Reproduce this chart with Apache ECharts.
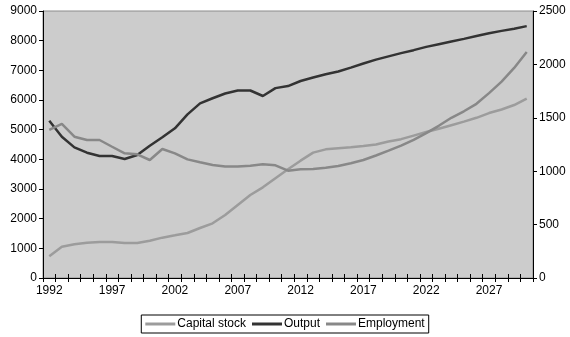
<!DOCTYPE html>
<html><head><meta charset="utf-8">
<script src="https://cdn.jsdelivr.net/npm/echarts@6/dist/echarts.min.js"></script>
<style>html,body{margin:0;padding:0;background:#fff}#c{width:570px;height:337px}</style>
</head><body><div id="c"></div>
<script>
const years = [];
for (let y = 1992; y <= 2030; y++) years.push(String(y));
const capitalStock = [730,1055,1135,1190,1213,1213,1180,1180,1258,1360,1438,1517,1686,1843,2124,2461,2798,3057,3360,3663,3955,4225,4337,4371,4405,4450,4500,4600,4680,4800,4920,5030,5150,5270,5400,5560,5680,5830,6050];
const output = [5300,4763,4404,4224,4112,4112,4011,4146,4460,4742,5045,5517,5888,6060,6220,6320,6320,6135,6400,6470,6640,6760,6870,6960,7090,7230,7360,7470,7580,7680,7790,7880,7970,8060,8160,8250,8330,8400,8490];
const employment = [1386,1442,1323,1292,1292,1229,1167,1158,1105,1208,1167,1111,1083,1058,1043,1043,1052,1064,1055,1005,1018,1021,1033,1049,1074,1105,1147,1192,1239,1294,1356,1425,1500,1561,1631,1731,1839,1967,2117];
const font = 'Arial, "Liberation Sans", sans-serif';
const chart = echarts.init(document.getElementById('c'));
chart.setOption({
  animation: false,
  grid: {left: 43, right: 37, top: 11, bottom: 59, show: true, backgroundColor: '#cccccc', borderColor: '#8c8c8c', borderWidth: 1},
  legend: {
    bottom: 4, left: 'center', itemWidth: 30, itemHeight: 3, itemGap: 6,
    padding: [3, 4, 3, 4], borderColor: '#000', borderWidth: 1,
    icon: 'rect',
    textStyle: {fontFamily: font, fontSize: 12, color: '#000', padding: [0, 0, 0, -3]},
    data: ['Capital stock', 'Output', 'Employment']
  },
  xAxis: [{
    type: 'category', data: years, boundaryGap: true,
    axisLine: {lineStyle: {color: '#000', width: 1}},
    axisTick: {show: true, interval: 0, length: 4, lineStyle: {color: '#000'}},
    axisLabel: {interval: 4, color: '#000', fontFamily: font, fontSize: 12, margin: 7}
  }, {
    type: 'category', data: years, boundaryGap: true, position: 'bottom',
    axisLine: {show: false},
    axisTick: {show: true, inside: true, interval: 0, length: 4, lineStyle: {color: '#000'}},
    axisLabel: {show: false}
  }],
  yAxis: [{
    type: 'value', min: 0, max: 9000, interval: 1000,
    axisLine: {show: true, lineStyle: {color: '#000'}},
    axisTick: {show: true, length: 4, lineStyle: {color: '#000'}},
    splitLine: {show: false},
    axisLabel: {color: '#000', fontFamily: font, fontSize: 12, margin: 6, formatter: v => String(v)}
  }, {
    type: 'value', min: 0, max: 2500, interval: 500, position: 'right',
    axisLine: {show: true, lineStyle: {color: '#000'}},
    axisTick: {show: true, length: 4, lineStyle: {color: '#000'}},
    splitLine: {show: false},
    axisLabel: {color: '#000', fontFamily: font, fontSize: 12, margin: 6, formatter: v => String(v)}
  }],
  series: [
    {name: 'Capital stock', type: 'line', data: capitalStock, yAxisIndex: 0, symbol: 'none', itemStyle: {color: '#9c9c9c'}, lineStyle: {color: '#9c9c9c', width: 2.5}},
    {name: 'Output', type: 'line', data: output, yAxisIndex: 0, symbol: 'none', itemStyle: {color: '#333333'}, lineStyle: {color: '#333333', width: 2.5}},
    {name: 'Employment', type: 'line', data: employment, yAxisIndex: 1, symbol: 'none', itemStyle: {color: '#888888'}, lineStyle: {color: '#888888', width: 2.5}}
  ]
});
</script>
</body></html>
